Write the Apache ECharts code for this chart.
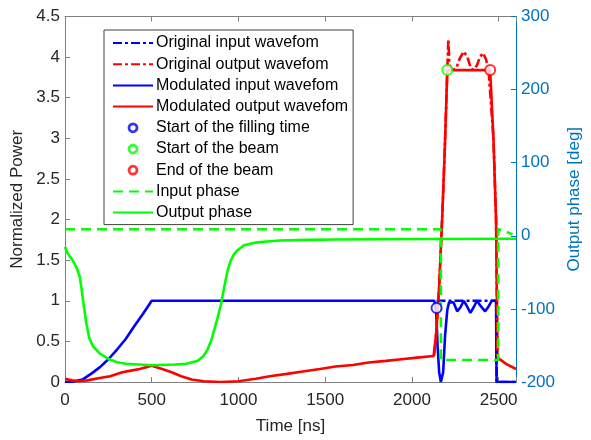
<!DOCTYPE html>
<html>
<head>
<meta charset="utf-8">
<script src="https://cdn.jsdelivr.net/npm/echarts@6/dist/echarts.min.js"></script>
<style>html,body{margin:0;padding:0;background:#fff;}#c{width:591px;height:440px;}</style>
</head>
<body>
<div id="c"></div>
<script>
// ---- data (time in ns) ----
var seriesNames = ['Original input wavefom','Original output wavefom','Modulated input wavefom','Modulated output wavefom','Start of the filling time','Start of the beam','End of the beam','Input phase','Output phase'];
var xTicks = [0, 500, 1000, 1500, 2000, 2500];
var leftTicks = [0, 0.5, 1, 1.5, 2, 2.5, 3, 3.5, 4, 4.5];
var rightTicks = [-200, -100, 0, 100, 200, 300];

var origInput = [[2142,1],[2486,1],[2489,0],[2600,0]];
var origOutput = [[2128,0.33],[2140,0.6],[2157,1.17],[2176,2.1],[2190,2.9],[2204,3.84],[2210,4.22],[2216,3.9],[2235,3.84],[2255,3.86],[2275,3.98],[2299,4.07],[2320,4.0],[2340,3.86],[2356,3.84],[2375,3.9],[2392,4.0],[2409,4.05],[2426,3.98],[2441,3.86],[2451,3.84],[2470,3.0],[2485,2.0],[2490,1.0],[2493,0.3]];
var modInput = [[0,0],[50,0.005],[100,0.03],[150,0.1],[200,0.18],[250,0.28],[300,0.4],[350,0.53],[400,0.69],[450,0.84],[500,1.0],[2129,1.0],[2140,0.87],[2148,0.44],[2157,0.12],[2167,0],[2180,0.12],[2191,0.57],[2204,0.89],[2214,0.98],[2225,1.0],[2240,0.98],[2261,0.87],[2280,0.92],[2299,1.0],[2318,0.93],[2337,0.85],[2356,0.92],[2375,1.0],[2398,0.93],[2422,0.87],[2442,0.93],[2460,1.0],[2485,1.0],[2488,0],[2600,0]];
var modOutput = [[0,0.04],[40,0.02],[75,0.01],[130,0.02],[200,0.05],[260,0.07],[330,0.12],[380,0.14],[430,0.16],[500,0.2],[560,0.16],[615,0.12],[670,0.07],[730,0.03],[800,0.01],[900,0.0],[1000,0.01],[1100,0.04],[1180,0.07],[1280,0.1],[1370,0.13],[1470,0.16],[1560,0.19],[1660,0.21],[1750,0.24],[1850,0.26],[1940,0.28],[2030,0.3],[2125,0.32],[2128,0.33],[2140,0.6],[2157,1.17],[2176,2.1],[2190,2.9],[2204,3.84],[2451,3.84],[2470,3.0],[2485,2.0],[2490,1.0],[2493,0.3],[2545,0.22],[2600,0.16]];
var fillStart = [[2142,0.91]];
var beamStart = [[2204,3.84]];
var beamEnd = [[2451,3.84]];
var inputPhase = [[0,9],[2167,9],[2167,-170],[2497,-170],[2497,9],[2530,7],[2580,2]];
var outputPhase = [[0,-15],[10,-22],[40,-32],[66,-43],[85,-56],[95,-72],[104,-88],[123,-120],[140,-140],[161,-151],[200,-161],[255,-169],[300,-173],[350,-175],[500,-177],[634,-176],[700,-175],[766,-171],[800,-164],[823,-155],[845,-142],[861,-128],[880,-112],[899,-94],[918,-70],[937,-48],[955,-34],[975,-25],[993,-20],[1032,-13],[1068,-11],[1107,-9],[1183,-7.4],[1238,-6.5],[1400,-5.6],[1561,-5.1],[1800,-4.7],[2129,-4.3],[2600,-4.1]];

var FONT = 'Arial, "Liberation Sans", sans-serif';
var GRAY = '#262626';
var AXC = '#0072BD';
var BLUE = '#0000FF', RED = '#FF0000', GREEN = '#00FF00';
var dashDot = [9, 3, 3, 3];
var dashed = [10, 6];

function lineS(name, data, color, type, yIdx) {
  return {name: name, type: 'line', data: data, yAxisIndex: yIdx || 0, symbol: 'none',
    lineStyle: {color: color, width: 2.6, type: type}, itemStyle: {color: color}, silent: true};
}
function dotS(name, data, color) {
  return {name: name, type: 'scatter', data: data, symbol: 'emptyCircle', symbolSize: 10,
    itemStyle: {color: color, borderColor: color, borderWidth: 2.6}, z: 5};
}
var markerColors = {};
markerColors[seriesNames[4]] = BLUE;
markerColors[seriesNames[5]] = GREEN;
markerColors[seriesNames[6]] = RED;
var legendData = seriesNames.map(function (n) {
  if (markerColors[n]) return {name: n, icon: 'circle', itemStyle: {color: '#fff', borderColor: markerColors[n], borderWidth: 2.8}};
  return {name: n, itemStyle: {color: 'rgba(0,0,0,0)', borderColor: 'rgba(0,0,0,0)', borderWidth: 0}};
});

var chart = echarts.init(document.getElementById('c'), null, {renderer: 'canvas'});
chart.setOption({
  animation: false,
  backgroundColor: '#fff',
  textStyle: {fontFamily: FONT},
  grid: {left: 65, right: 68, top: 16.5, bottom: 53.5},
  legend: {
    orient: 'vertical', left: 104, top: 30,
    data: legendData,
    backgroundColor: '#fff', borderColor: '#404040', borderWidth: 1,
    padding: [5, 5, 4, 8], itemWidth: 40, itemHeight: 8, itemGap: 5.2,
    textStyle: {fontSize: 16, lineHeight: 16, color: '#000', fontFamily: FONT, padding: [0, 0, 0, -2]},
    selectedMode: false
  },
  xAxis: [{
    type: 'value', min: 0, max: 2600, interval: 500, position: 'bottom',
    name: 'Time [ns]', nameLocation: 'middle', nameGap: 36,
    nameTextStyle: {fontSize: 17, color: GRAY, fontFamily: FONT},
    axisLine: {onZero: false, lineStyle: {color: '#808080'}},
    axisTick: {inside: true, length: 5, lineStyle: {color: '#808080'}},
    axisLabel: {fontSize: 17, color: GRAY, margin: 10, fontFamily: FONT,
      formatter: function (v) { return xTicks.indexOf(v) >= 0 ? String(v) : ''; }},
    splitLine: {show: false}
  }, {
    type: 'value', min: 0, max: 2600, interval: 500, position: 'top',
    axisLine: {onZero: false, lineStyle: {color: '#808080'}},
    axisTick: {inside: true, length: 5, lineStyle: {color: '#808080'}},
    axisLabel: {show: false}, splitLine: {show: false}
  }],
  yAxis: [{
    type: 'value', min: 0, max: 4.5, interval: 0.5, position: 'left',
    name: 'Normalized Power', nameLocation: 'middle', nameGap: 34, nameRotate: 90,
    nameTextStyle: {fontSize: 17, color: GRAY, fontFamily: FONT},
    axisLine: {show: true, onZero: false, lineStyle: {color: '#808080'}},
    axisTick: {show: true, inside: true, length: 5, lineStyle: {color: '#808080'}},
    axisLabel: {fontSize: 17, color: GRAY, margin: 5, fontFamily: FONT,
      formatter: function (v) { return leftTicks.indexOf(v) >= 0 ? String(v) : ''; }},
    splitLine: {show: false}
  }, {
    type: 'value', min: -200, max: 300, interval: 100, position: 'right',
    name: 'Output phase [deg]', nameLocation: 'middle', nameGap: 50, nameRotate: 90,
    nameTextStyle: {fontSize: 17, color: AXC, fontFamily: FONT},
    axisLine: {show: true, onZero: false, lineStyle: {color: AXC}},
    axisTick: {show: true, inside: true, length: 5, lineStyle: {color: AXC}},
    axisLabel: {fontSize: 17, color: AXC, margin: 5, fontFamily: FONT,
      formatter: function (v) { return rightTicks.indexOf(v) >= 0 ? String(v) : ''; }},
    splitLine: {show: false}
  }],
  series: [
    lineS(seriesNames[2], modInput, BLUE, 'solid'),
    lineS(seriesNames[3], modOutput, RED, 'solid'),
    lineS(seriesNames[0], origInput, BLUE, dashDot),
    lineS(seriesNames[1], origOutput, RED, dashDot),
    lineS(seriesNames[7], inputPhase, GREEN, dashed, 1),
    lineS(seriesNames[8], outputPhase, GREEN, 'solid', 1),
    dotS(seriesNames[4], fillStart, BLUE),
    dotS(seriesNames[5], beamStart, GREEN),
    dotS(seriesNames[6], beamEnd, RED)
  ]
});
</script>
</body>
</html>
